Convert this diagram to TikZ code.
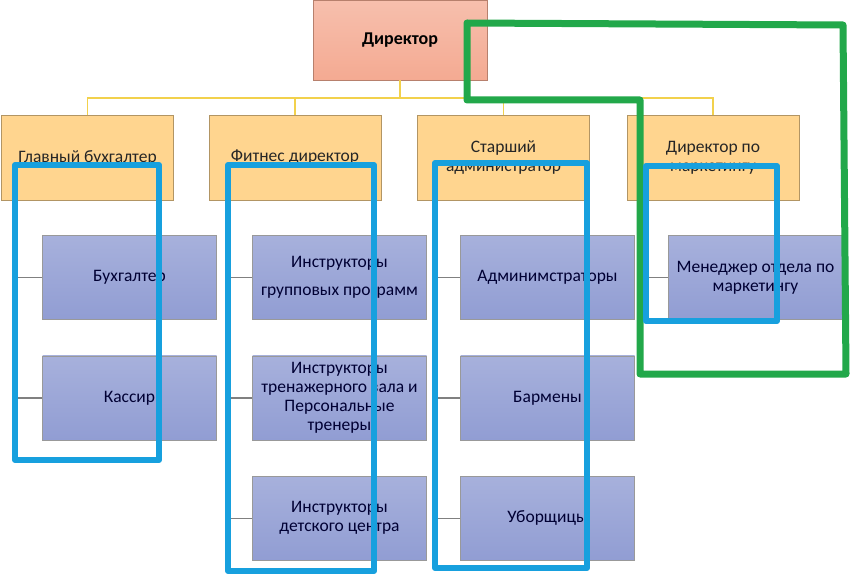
\documentclass[tikz,border=0pt]{standalone}
\usepackage{fontspec}
\setmainfont{Carlito}
\usetikzlibrary{positioning}
\definecolor{salmon}{HTML}{F4AA92}
\definecolor{peach}{HTML}{FFD58F}
\definecolor{lilac}{HTML}{919DD3}
\definecolor{gold}{HTML}{F2D14C}
\definecolor{markblue}{HTML}{17A0DE}
\definecolor{markgreen}{HTML}{22A84A}
\tikzset{
  org/.style={align=center, inner sep=2pt, font=\fontsize{17.5}{19}\selectfont},
  head/.style={org, draw=salmon!75!black, top color=salmon!75!white, bottom color=salmon, minimum width=174pt, minimum height=80pt, font=\fontsize{18}{20}\selectfont\bfseries},
  lead/.style={org, draw=peach!70!black, fill=peach, minimum width=172pt, minimum height=85pt, text=black!85},
  staff/.style={org, draw=black!40, top color=lilac!80!white, bottom color=lilac, minimum width=174pt, minimum height=84pt, text=blue!20!black},
  bus/.style={gold, line width=1.6pt},
  link/.style={black!50, line width=1.4pt},
  bluemark/.style={markblue, line width=6pt, line join=round},
  greenmark/.style={markgreen, line width=7pt, line join=round, line cap=round}}

\begin{document}
\begin{tikzpicture}[x=1pt, y=-1pt, node distance=36pt]
\useasboundingbox (0,0) rectangle (851,577);
% head and second level
\node[head] (dir) at (400,40) {Директор};
\node[lead] (gb) at (87.5,157.5) {Главный бухгалтер};
\node[lead] (fd) at (295,157.5) {Фитнес директор};
\node[lead] (sa) at (503.5,157.5) {Старший\\администратор};
\node[lead] (dm) at (713,157.5) {Директор по\\маркетингу};
\foreach \n in {gb,fd,sa,dm}
  \draw[bus] (dir.south) -- ++(0,18) -| (\n.north);
% staff
\node[staff] (buh) at (129.5,277.5) {Бухгалтер};
\node[staff, below=of buh] (kas) {Кассир};
\node[staff] (grp) at (339.5,277.5) {Инструкторы\\[9pt]групповых программ};
\node[staff, below=of grp] (trn) {Инструкторы\\тренажерного зала и\\Персональные\\тренеры};
\node[staff, below=of trn] (det) {Инструкторы\\детского центра};
\node[staff] (adm) at (547.5,277.5) {Админимстраторы};
\node[staff, below=of adm] (bar) {Бармены};
\node[staff, below=of bar] (ubo) {Уборщицы};
\node[staff] (mng) at (755.5,277.5) {Менеджер отдела по\\маркетингу};
\foreach \p/\c/\d in {gb/buh/15,gb/kas/15,fd/grp/20,fd/trn/20,fd/det/20,sa/adm/18,sa/bar/18,sa/ubo/18,dm/mng/18}
  \draw[link] (\p.south west) ++(\d,0) |- (\c.west);
% hand-drawn marks
\draw[greenmark] (467,23) -- (843,25) -- (846,374) -- (640,374) -- (640,100) -- (467,100) -- cycle;
\draw[bluemark] (15,165) rectangle (159,460);
\draw[bluemark] (228,165) rectangle (374,571);
\draw[bluemark] (435,163) rectangle (587,568);
\draw[bluemark] (646,166) rectangle (777,321);
\end{tikzpicture}
\end{document}
